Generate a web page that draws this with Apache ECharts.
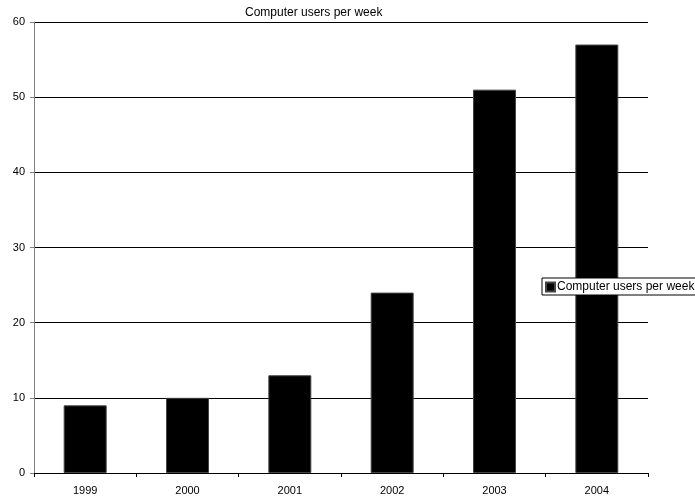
<!DOCTYPE html>
<html>
<head>
<meta charset="utf-8">
<script src="https://cdn.jsdelivr.net/npm/echarts@6/dist/echarts.min.js"></script>
<style>
  html, body { margin:0; padding:0; background:#fff; }
  #chart { width:695px; height:498px; }
</style>
</head>
<body>
<div id="chart"></div>
<script>
const years = ['1999', '2000', '2001', '2002', '2003', '2004'];
const users = [9, 10, 13, 24, 51, 57];
const seriesName = 'Computer users per week';

const chart = echarts.init(document.getElementById('chart'), null, { renderer:'canvas' });
const font = 'Liberation Sans, Arial, sans-serif';

chart.setOption({
  backgroundColor:'#fff',
  animation:false,
  title: { text: seriesName, left:240, top:2,
    textStyle:{ color:'#000', fontSize:12, fontWeight:'normal', fontFamily:font } },
  legend: {
    left:542, top:278, orient:'vertical',
    borderColor:'#000', borderWidth:1, backgroundColor:'#fff',
    padding:[3,4,2,3], itemGap:0,
    itemWidth:9, itemHeight:9, icon:'rect',
    textStyle:{ color:'#000', fontSize:12, fontFamily:font, padding:[0,0,0,-3] },
    data:[seriesName]
  },
  grid: { left:34, right:47, top:22, bottom:25, containLabel:false },
  xAxis: {
    type:'category', data: years,
    axisLine:{ lineStyle:{ color:'#000', width:1 } },
    axisTick:{ show:true, alignWithLabel:false, length:4, lineStyle:{ color:'#000' } },
    axisLabel:{ color:'#000', fontSize:11, fontFamily:font, margin:12 },
    splitLine:{ show:false }
  },
  yAxis: {
    type:'value', min:0, max:60, interval:10,
    axisLine:{ show:true, lineStyle:{ color:'#808080', width:1 } },
    axisTick:{ show:true, length:4, lineStyle:{ color:'#808080' } },
    axisLabel:{ color:'#000', fontSize:11, fontFamily:font, margin:9 },
    splitLine:{ show:true, lineStyle:{ color:'#000', width:1 } }
  },
  series: [{
    type:'bar', name: seriesName, data: users,
    barWidth:'42%',
    itemStyle:{ color:'#000', borderColor:'#444', borderWidth:1 }
  }]
});
</script>
</body>
</html>
